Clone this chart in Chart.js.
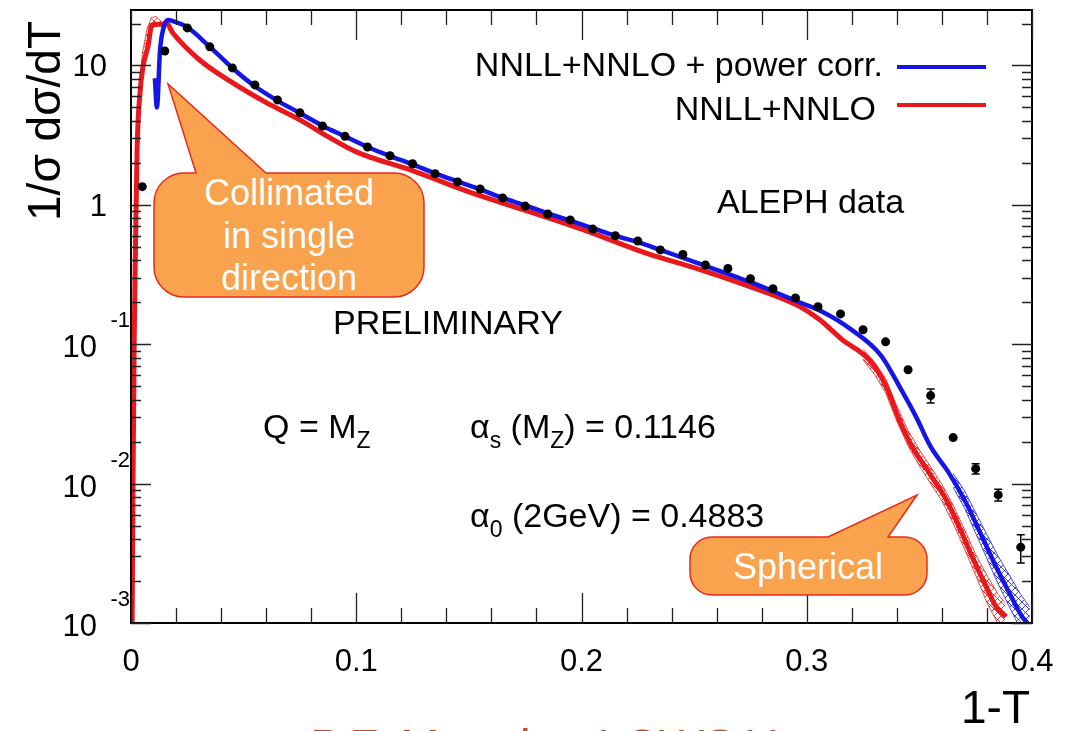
<!DOCTYPE html>
<html>
<head>
<meta charset="utf-8">
<script src="https://cdn.jsdelivr.net/npm/chart.js@4.4.1/dist/chart.umd.min.js"></script>
<style>
  html, body { margin: 0; padding: 0; background: #fff; }
</style>
</head>
<body>
<canvas id="graphique" width="1083" height="731"></canvas>
<script>
// Données ALEPH (1-T), centres des bins
const alephX = [0.005, 0.015, 0.025, 0.035, 0.045, 0.055, 0.065, 0.075, 0.085, 0.095,
                0.105, 0.115, 0.125, 0.135, 0.145, 0.155, 0.165, 0.175, 0.185, 0.195,
                0.205, 0.215, 0.225, 0.235, 0.245, 0.255, 0.265, 0.275, 0.285, 0.295,
                0.305, 0.315, 0.325, 0.335, 0.345, 0.355, 0.365, 0.375, 0.385, 0.395];
const alephY = [1.35, 12.7, 18.6, 13.6, 9.6, 7.25, 5.66, 4.57, 3.68, 3.1,
                2.6, 2.25, 1.97, 1.67, 1.46, 1.30, 1.12, 0.98, 0.86, 0.78,
                0.67, 0.60, 0.55, 0.475, 0.44, 0.37, 0.35, 0.295, 0.25, 0.215,
                0.186, 0.165, 0.127, 0.104, 0.0656, 0.0428, 0.0214, 0.0128, 0.0083, 0.0035];
const alephErr = [0.1, 0.3, 0.3, 0.2, 0.1, 0.08, 0.05, 0.04, 0.03, 0.03,
                  0.02, 0.02, 0.02, 0.015, 0.015, 0.01, 0.01, 0.01, 0.01, 0.01,
                  0.008, 0.008, 0.007, 0.007, 0.006, 0.006, 0.005, 0.005, 0.004, 0.004,
                  0.004, 0.004, 0.004, 0.004, 0.003, 0.005, 0.0015, 0.0011, 0.0008, 0.0008];

// NNLL+NNLO + power corr.
const bleuX = [0.0106, 0.0115, 0.0129, 0.0142, 0.0164, 0.0186, 0.0248, 0.035, 0.045, 0.055,
               0.065, 0.075, 0.085, 0.095, 0.105, 0.115, 0.125, 0.135, 0.145, 0.155,
               0.165, 0.175, 0.185, 0.195, 0.205, 0.215, 0.225, 0.235, 0.2523, 0.265,
               0.2745, 0.285, 0.2967, 0.3069, 0.319, 0.333, 0.342, 0.3486, 0.355, 0.363,
               0.3707, 0.3778, 0.384, 0.3898, 0.3956, 0.398];
const bleuY = [8.1, 5.0, 12.9, 18.0, 21.2, 20.8, 18.9, 13.6, 9.6, 7.1,
               5.6, 4.55, 3.7, 3.1, 2.6, 2.24, 1.95, 1.68, 1.47, 1.29,
               1.12, 0.99, 0.87, 0.77, 0.68, 0.60, 0.54, 0.475, 0.378, 0.32,
               0.281, 0.24, 0.2, 0.171, 0.13, 0.083, 0.047, 0.030, 0.0184, 0.012,
               0.0073, 0.00417, 0.00254, 0.00166, 0.00111, 0.001];

// NNLL+NNLO
const rougeX = [0.0005, 0.0009, 0.0014, 0.002, 0.0027, 0.004, 0.0053, 0.0075, 0.0093, 0.016,
                0.0186, 0.0306, 0.0452, 0.0603, 0.075, 0.088, 0.1, 0.125, 0.15, 0.162,
                0.2, 0.23, 0.2523, 0.2745, 0.2967, 0.3055, 0.3157, 0.3277, 0.3353, 0.341,
                0.3468, 0.3543, 0.3619, 0.3676, 0.3734, 0.3796, 0.384, 0.3885];
const rougeY = [0.001, 0.01, 0.1, 0.5, 2.48, 6.35, 9.76, 13.6, 19.5, 19.8,
                17.1, 10.9, 7.5, 5.39, 4.07, 3.05, 2.4, 1.76, 1.24, 1.07,
                0.67, 0.443, 0.345, 0.26, 0.187, 0.151, 0.108, 0.0774, 0.0496, 0.0288,
                0.0184, 0.012, 0.00768, 0.00492, 0.0030, 0.00183, 0.00131, 0.00111];

// bandes d'incertitude (hachurées)
const bandeRougePicX = [0.002, 0.003, 0.005, 0.007, 0.009, 0.011, 0.013, 0.015];
const bandeRougePicHaut = [1.2, 4.5, 12, 18, 22, 22.5, 21, 18.5];
const bandeRougePicBas = [0.5, 2.6, 8.8, 12.8, 18.3, 19.2, 19.4, 18.3];

const bandeRougeFinX = [0.325, 0.33, 0.335, 0.34, 0.345, 0.35, 0.355, 0.36, 0.365, 0.37, 0.375, 0.38, 0.385, 0.388];
const bandeRougeFinHaut = [0.092, 0.075, 0.057, 0.036, 0.024, 0.0175, 0.0132, 0.0099, 0.007, 0.0047, 0.0031, 0.0022, 0.0016, 0.0014];
const bandeRougeFinBas = [0.077, 0.061, 0.045, 0.028, 0.0186, 0.0134, 0.0100, 0.0075, 0.0052, 0.0034, 0.0022, 0.0014, 0.00098, 0.0009];

const bandeBleuFinX = [0.365, 0.37, 0.375, 0.38, 0.385, 0.39, 0.395, 0.399];
const bandeBleuFinHaut = [0.0118, 0.0089, 0.0062, 0.0043, 0.0030, 0.0022, 0.0016, 0.0013];
const bandeBleuFinBas = [0.0094, 0.0067, 0.0044, 0.0029, 0.0019, 0.0013, 0.0009, 0.0008];

// graduations
const decades = [0.001, 0.01, 0.1, 1, 10];
const xGrad = [0, 0.1, 0.2, 0.3, 0.4];
const xGradTexte = ["0", "0.1", "0.2", "0.3", "0.4"];

const POLICE = '"Liberation Sans", Arial, Helvetica, sans-serif';
const BLEU = "#1616e4";
const ROUGE = "#e8181c";

function points(xs, ys) {
    return xs.map((x, i) => ({ x: x, y: ys[i] }));
}

function hachures(couleur) {
    const c = document.createElement("canvas");
    c.width = 7;
    c.height = 7;
    const g = c.getContext("2d");
    g.strokeStyle = couleur;
    g.lineWidth = 1;
    g.beginPath();
    g.moveTo(0, 7); g.lineTo(7, 0);
    g.moveTo(0, 0); g.lineTo(7, 7);
    g.stroke();
    return g.createPattern(c, "repeat");
}

// texte avec indices : [texte, "n" | "sub"]
function texteRiche(ctx, x, y, morceaux, taille) {
    ctx.textAlign = "left";
    morceaux.forEach(([t, genre]) => {
        if (genre === "sub") {
            ctx.font = Math.round(taille * 0.68) + "px " + POLICE;
            ctx.fillText(t, x, y + taille * 0.28);
        } else {
            ctx.font = taille + "px " + POLICE;
            ctx.fillText(t, x, y);
        }
        x += ctx.measureText(t).width;
    });
}

// bulle orange arrondie avec une pointe partant du bord haut
function bulle(ctx, x0, y0, x1, y1, r, b0, b1, tx, ty) {
    ctx.beginPath();
    ctx.moveTo(x0 + r, y0);
    ctx.lineTo(b0, y0);
    ctx.lineTo(tx, ty);
    ctx.lineTo(b1, y0);
    ctx.arcTo(x1, y0, x1, y1, r);
    ctx.arcTo(x1, y1, x0, y1, r);
    ctx.arcTo(x0, y1, x0, y0, r);
    ctx.arcTo(x0, y0, x1, y0, r);
    ctx.closePath();
    ctx.fillStyle = "#f9a34e";
    ctx.fill();
    ctx.strokeStyle = "#e82a1e";
    ctx.lineWidth = 1.5;
    ctx.stroke();
}

const decor = {
    id: "decor",
    beforeDraw(chart) {
        const ctx = chart.ctx;
        ctx.save();
        ctx.fillStyle = "#fff";
        ctx.fillRect(0, 0, chart.width, chart.height);
        ctx.restore();
    },
    afterDatasetsDraw(chart) {
        // barres d'erreur ALEPH
        const ctx = chart.ctx;
        const y = chart.scales.y;
        const meta = chart.getDatasetMeta(0);
        ctx.save();
        ctx.strokeStyle = "#000";
        ctx.lineWidth = 1.5;
        ctx.beginPath();
        meta.data.forEach((pt, i) => {
            const haut = y.getPixelForValue(alephY[i] + alephErr[i]);
            const bas = y.getPixelForValue(alephY[i] - alephErr[i]);
            if (bas - haut < 9) return;
            ctx.moveTo(pt.x, haut); ctx.lineTo(pt.x, bas);
            ctx.moveTo(pt.x - 4, haut); ctx.lineTo(pt.x + 4, haut);
            ctx.moveTo(pt.x - 4, bas); ctx.lineTo(pt.x + 4, bas);
        });
        ctx.stroke();
        ctx.restore();
    },
    afterDraw(chart) {
        const { ctx, chartArea: a, scales: { x, y } } = chart;
        ctx.save();

        // cadre
        ctx.strokeStyle = "#000";
        ctx.lineWidth = 2;
        ctx.strokeRect(a.left, a.top, a.right - a.left, a.bottom - a.top);

        // graduations intérieures
        ctx.lineWidth = 1.3;
        ctx.strokeStyle = "#222";
        ctx.beginPath();
        for (let k = 0; k <= 20; k++) {
            const px = Math.round(x.getPixelForValue(k * 0.02)) + 0.5;
            const L = k % 5 === 0 ? 30 : 15;
            ctx.moveTo(px, a.bottom); ctx.lineTo(px, a.bottom - L);
            ctx.moveTo(px, a.top); ctx.lineTo(px, a.top + L);
        }
        decades.forEach(d => {
            for (let m = 1; m <= 9; m++) {
                const v = d * m;
                if (v > y.max) break;
                const py = Math.round(y.getPixelForValue(v)) + 0.5;
                const L = m === 1 ? 20 : 10;
                ctx.moveTo(a.left, py); ctx.lineTo(a.left + L, py);
                ctx.moveTo(a.right, py); ctx.lineTo(a.right - L, py);
            }
        });
        ctx.stroke();

        ctx.fillStyle = "#000";
        ctx.textBaseline = "alphabetic";

        // étiquettes x
        ctx.font = "31px " + POLICE;
        ctx.textAlign = "center";
        xGrad.forEach((v, i) => ctx.fillText(xGradTexte[i], x.getPixelForValue(v), 671));

        // étiquettes y (10 avec exposant)
        decades.forEach(d => {
            const py = y.getPixelForValue(d);
            ctx.textAlign = "right";
            ctx.font = "31px " + POLICE;
            if (d >= 1) {
                ctx.fillText(d === 1 ? "1" : "10", 107, py + 11);
            } else {
                ctx.fillText("10", 97, py + 13);
                ctx.font = "22px " + POLICE;
                ctx.fillText(String(Math.round(Math.log10(d))), 130, py - 17);
            }
        });

        // titres des axes
        ctx.font = "46px " + POLICE;
        ctx.textAlign = "right";
        ctx.fillText("1-T", 1030, 723);
        ctx.save();
        ctx.translate(60, 121);
        ctx.rotate(-Math.PI / 2);
        ctx.textAlign = "center";
        ctx.fillText("1/σ dσ/dT", 0, 0);
        ctx.restore();

        // légende
        ctx.font = "34px " + POLICE;
        ctx.textAlign = "right";
        ctx.fillText("NNLL+NNLO + power corr.", 883, 76);
        ctx.fillText("NNLL+NNLO", 876, 120);
        ctx.lineWidth = 4;
        ctx.strokeStyle = BLEU;
        ctx.beginPath(); ctx.moveTo(897, 67); ctx.lineTo(986, 67); ctx.stroke();
        ctx.strokeStyle = ROUGE;
        ctx.beginPath(); ctx.moveTo(897, 105); ctx.lineTo(986, 105); ctx.stroke();

        // textes dans le cadre
        ctx.textAlign = "left";
        ctx.font = "34px " + POLICE;
        ctx.fillText("ALEPH data", 717, 213);
        ctx.fillText("PRELIMINARY", 333, 334);
        texteRiche(ctx, 263, 438, [["Q = M", "n"], ["Z", "sub"]], 34);
        texteRiche(ctx, 470, 438, [["α", "n"], ["s", "sub"], [" (M", "n"], ["Z", "sub"], [") = 0.1146", "n"]], 34);
        texteRiche(ctx, 470, 527, [["α", "n"], ["0", "sub"], [" (2GeV) = 0.4883", "n"]], 34);

        // bulles
        bulle(ctx, 154, 173, 424, 297, 30, 196, 266, 168, 84);
        bulle(ctx, 690, 537, 927, 595, 22, 828, 888, 917, 495);
        ctx.fillStyle = "#fff";
        ctx.font = "36px " + POLICE;
        ctx.textAlign = "center";
        ctx.fillText("Collimated", 289, 205);
        ctx.fillText("in single", 289, 248);
        ctx.fillText("direction", 289, 290);
        ctx.fillText("Spherical", 808, 579);

        // référence en bas, coupée par le bord
        ctx.fillStyle = "#c8461e";
        ctx.font = "48px " + POLICE;
        ctx.textAlign = "left";
        ctx.fillText("P.F. Monni at LCWS11", 310, 763);

        ctx.restore();
    }
};

const fondBleu = hachures("rgba(30,30,230,0.85)");
const fondRouge = hachures("rgba(232,30,30,0.85)");

new Chart(document.getElementById("graphique"), {
    type: "line",
    data: {
        datasets: [
            {
                label: "ALEPH data",
                data: points(alephX, alephY),
                showLine: false,
                pointRadius: 4.5,
                pointBackgroundColor: "#000",
                pointBorderWidth: 0,
                order: 0
            },
            {
                label: "NNLL+NNLO + power corr.",
                data: points(bleuX, bleuY),
                borderColor: BLEU,
                borderWidth: 4.5,
                pointRadius: 0,
                cubicInterpolationMode: "monotone",
                order: 1
            },
            {
                label: "NNLL+NNLO",
                data: points(rougeX, rougeY),
                borderColor: ROUGE,
                borderWidth: 5,
                pointRadius: 0,
                cubicInterpolationMode: "monotone",
                order: 2
            },
            {
                data: points(bandeBleuFinX, bandeBleuFinHaut),
                borderColor: "rgba(30,30,230,0.8)", borderWidth: 1, pointRadius: 0,
                backgroundColor: fondBleu, fill: "+1", order: 3
            },
            {
                data: points(bandeBleuFinX, bandeBleuFinBas),
                borderColor: "rgba(30,30,230,0.8)", borderWidth: 1, pointRadius: 0,
                fill: false, order: 3
            },
            {
                data: points(bandeRougeFinX, bandeRougeFinHaut),
                borderColor: "rgba(232,30,30,0.8)", borderWidth: 1, pointRadius: 0,
                backgroundColor: fondRouge, fill: "+1", order: 4
            },
            {
                data: points(bandeRougeFinX, bandeRougeFinBas),
                borderColor: "rgba(232,30,30,0.8)", borderWidth: 1, pointRadius: 0,
                fill: false, order: 4
            },
            {
                data: points(bandeRougePicX, bandeRougePicHaut),
                borderColor: "rgba(232,30,30,0.8)", borderWidth: 1, pointRadius: 0,
                backgroundColor: fondRouge, fill: "+1", order: 4
            },
            {
                data: points(bandeRougePicX, bandeRougePicBas),
                borderColor: "rgba(232,30,30,0.8)", borderWidth: 1, pointRadius: 0,
                fill: false, order: 4
            }
        ]
    },
    options: {
        responsive: false,
        devicePixelRatio: 1,
        animation: false,
        events: [],
        layout: { padding: { left: 0, top: 10, right: 51, bottom: 0 } },
        plugins: { legend: { display: false }, tooltip: { enabled: false } },
        scales: {
            x: {
                type: "linear",
                min: 0,
                max: 0.4,
                grid: { display: false, drawTicks: false },
                border: { display: false },
                ticks: { display: false },
                afterFit: s => { s.height = 108; }
            },
            y: {
                type: "logarithmic",
                min: 0.001,
                max: 25,
                grid: { display: false, drawTicks: false },
                border: { display: false },
                ticks: { display: false },
                afterFit: s => { s.width = 131; }
            }
        }
    },
    plugins: [decor]
});
</script>
</body>
</html>
